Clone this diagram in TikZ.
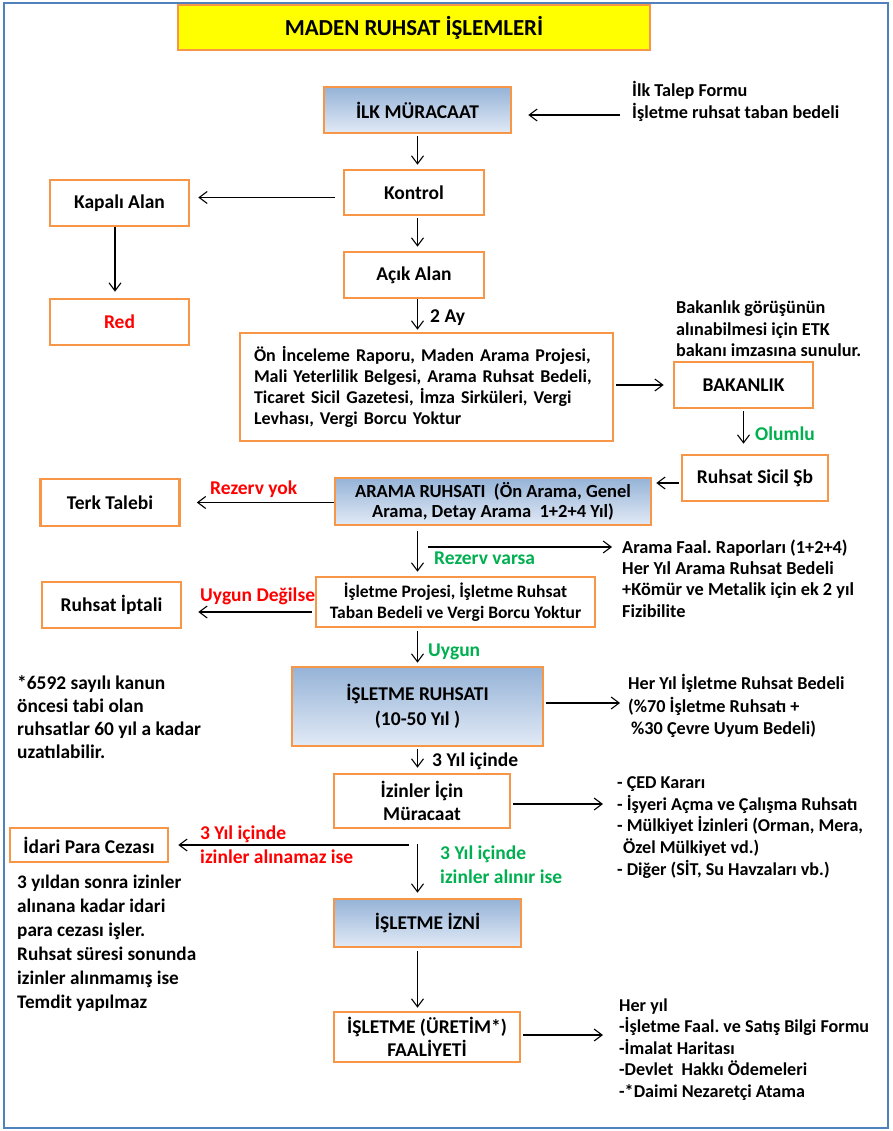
\documentclass[tikz,border=0pt]{standalone}
\usepackage{fontspec}
\setmainfont{Carlito}
\usetikzlibrary{arrows.meta,calc}
\definecolor{obox}{HTML}{F79646}
\definecolor{frameblue}{HTML}{4F81BD}
\definecolor{gtop}{HTML}{95B3D7}
\definecolor{gbot}{HTML}{E2EAF6}
\definecolor{tred}{HTML}{FF0000}
\definecolor{tgreen}{HTML}{00B050}
\definecolor{tyellow}{HTML}{FFFF00}
\newcommand{\fsz}[2]{\fontsize{#1}{#2}\selectfont\bfseries\frenchspacing}
\tikzset{
  box/.style={draw=obox, line width=2.6pt, fill=white, align=center, inner sep=2pt,
    font=\fsz{19.5}{23}},
  gbox/.style={box, top color=gtop, bottom color=gbot},
  txt/.style={anchor=base west, inner sep=0pt, align=left, font=\fsz{19.5}{23}},
  rtxt/.style={txt, font=\fsz{18.2}{21.5}},
  arr/.style={draw=black, line width=1.1pt, -{Straight Barb[length=8pt,width=12pt]}},
}
\begin{document}
\begin{tikzpicture}[x=1pt,y=-1pt]
\useasboundingbox (0,0) rectangle (892,1131);
\draw[frameblue, line width=1.5pt] (4,3) rectangle (888,1128);

% title
\node[box, fill=tyellow, minimum width=472, minimum height=45,
  font=\fsz{22.9}{26}] (title) at (414,27.5) {MADEN RUHSAT İŞLEMLERİ};

% boxes
\node[gbox, minimum width=187, minimum height=46] (ilk) at (417.5,110) {İLK MÜRACAAT};
\node[box, minimum width=140, minimum height=45] (kontrol) at (414,192.5) {Kontrol};
\node[box, minimum width=139, minimum height=46] (kapali) at (119.5,203) {Kapalı Alan};
\node[box, minimum width=139, minimum height=46, text=tred] (red) at (119.5,322) {Red};
\node[box, minimum width=140, minimum height=46] (acik) at (414,275) {Açık Alan};
\node[box, minimum width=373, minimum height=108, text width=345, align=left,
  font=\fsz{18}{21.3}] (onin) at (426.5,387)
  {Ön İnceleme Raporu, Maden Arama Projesi,\\Mali Yeterlilik Belgesi, Arama Ruhsat Bedeli,\\Ticaret Sicil Gazetesi, İmza Sirküleri, Vergi\\Levhası, Vergi Borcu Yoktur};
\node[box, minimum width=139, minimum height=46] (bakanlik) at (743.5,385) {BAKANLIK};
\node[box, minimum width=146, minimum height=46] (sicil) at (755,478) {Ruhsat Sicil Şb};
\node[gbox, minimum width=316, minimum height=47, font=\fsz{18.5}{20.8}] (arama) at (493,501.5)
  {ARAMA RUHSATI~~(Ön Arama, Genel\\Arama, Detay Arama~~1+2+4 Yıl)};
\node[box, minimum width=139, minimum height=47] (terk) at (110,502.5) {Terk Talebi};
\node[box, minimum width=279, minimum height=50, font=\fsz{17.5}{21}] (isproje) at (455.5,602)
  {İşletme Projesi, İşletme Ruhsat\\Taban Bedeli ve Vergi Borcu Yoktur};
\node[box, minimum width=139, minimum height=46] (iptal) at (111.5,605) {Ruhsat İptali};
\node[gbox, minimum width=251, minimum height=79, font=\fsz{19.5}{25}] (isruhsat) at (417.5,706.5)
  {İŞLETME RUHSATI\\(10-50 Yıl )};
\node[box, minimum width=176, minimum height=54, font=\fsz{19.5}{23}] (izinler) at (422,801) {İzinler İçin\\Müracaat};
\node[box, minimum width=158, minimum height=34] (idari) at (89,845) {İdari Para Cezası};
\node[gbox, minimum width=187, minimum height=48] (izni) at (427.5,923) {İŞLETME İZNİ};
\node[box, minimum width=186, minimum height=50, font=\fsz{19.5}{23}] (uretim) at (427,1037) {İŞLETME (ÜRETİM*)\\FAALİYETİ};

% free texts (base = last line baseline)
\node[rtxt] (talep) at (632,118.5) {İlk Talep Formu\\İşletme ruhsat taban bedeli};
\node[rtxt] (bnote) at (676,356.5) {Bakanlık görüşünün\\alınabilmesi için ETK\\bakanı imzasına sunulur.};
\node[txt] (ay) at (430,322.5) {2 Ay};
\node[txt, text=tgreen] (olumlu) at (755,440) {Olumlu};
\node[txt, text=tred] (rezyok) at (210,494) {Rezerv yok};
\node[txt, text=tgreen] (rezvar) at (434,564) {Rezerv varsa};
\node[rtxt, font=\fsz{18.3}{21.3}] (faal) at (622,617) {Arama Faal. Raporları (1+2+4)\\Her Yıl Arama Ruhsat Bedeli\\+Kömür ve Metalik için ek 2 yıl\\Fizibilite};
\node[txt, text=tred] (degil) at (200,601) {Uygun Değilse};
\node[txt, text=tgreen] (uygun) at (428,656) {Uygun};
\node[rtxt, font=\fsz{18.2}{22.5}] (isbedel) at (628,734.5) {Her Yıl İşletme Ruhsat Bedeli\\(\%70 İşletme Ruhsatı +\\\hspace*{3pt}\%30 Çevre Uyum Bedeli)};
\node[txt, font=\fsz{19.4}{22.7}] (kanun) at (17,758) {*6592 sayılı kanun\\öncesi tabi olan\\ruhsatlar 60 yıl a kadar\\uzatılabilir.};
\node[txt] (uc) at (432,766) {3 Yıl içinde};
\node[rtxt, font=\fsz{18.1}{21.6}] (izlist) at (617,875) {- ÇED Kararı\\- İşyeri Açma ve Çalışma Ruhsatı\\- Mülkiyet İzinleri (Orman, Mera,\\\hspace*{6pt}Özel Mülkiyet vd.)\\- Diğer (SİT, Su Havzaları vb.)};
\node[txt, text=tred, font=\fsz{19.5}{24}] (alinamaz) at (200,863) {3 Yıl içinde\\izinler alınamaz ise};
\node[txt, text=tgreen, font=\fsz{19.5}{24}] (alinir) at (440,883) {3 Yıl içinde\\izinler alınır ise};
\node[txt, font=\fsz{19.2}{24}] (ceza) at (17,1008) {3 yıldan sonra izinler\\alınana kadar idari\\para cezası işler.\\Ruhsat süresi sonunda\\izinler alınmamış ise\\Temdit yapılmaz};
\node[rtxt, font=\fsz{18.1}{21.5}] (heryil) at (619,1097) {Her yıl\\-İşletme Faal. ve Satış Bilgi Formu\\-İmalat Haritası\\-Devlet~~Hakkı Ödemeleri\\-*Daimi Nezaretçi Atama};

% coordinates
\coordinate (axis) at (417.5,0);
\coordinate (tal) at (620,115);
\coordinate (k1) at ([yshift=-5pt]kontrol.west);
\coordinate (s1) at ([yshift=-5pt]sicil.west);
\coordinate (rv) at (428,547);
\coordinate (rvend) at (612,547);
\coordinate (p1) at ([yshift=-10pt]isproje.west);
\coordinate (r1) at ([yshift=3.5pt]isruhsat.east);
\coordinate (r1end) at (620,703);
\coordinate (z1) at ([yshift=-3pt]izinler.east);
\coordinate (z1end) at (603,804);
\coordinate (split) at (409,845);
\coordinate (u1) at ([yshift=2pt]uretim.east);
\coordinate (u1end) at (603,1035);

% connectors
\draw[arr, shorten >=16pt] (tal) -- (ilk.east |- tal);
\draw[arr, shorten <=2pt, shorten >=4pt] (ilk.south -| axis) -- (kontrol.north -| axis);
\draw[arr, shorten <=8pt, shorten >=8pt] (k1) -- (kapali.east |- k1);
\draw[arr, shorten >=6pt] (kapali.south -| 115,0) -- (red.north -| 115,0);
\draw[arr, shorten <=2pt, shorten >=4pt] (kontrol.south -| axis) -- (acik.north -| axis);
\draw[arr, shorten >=2pt] (acik.south -| axis) -- (onin.north -| axis);
\draw[arr, shorten <=2pt, shorten >=9pt] (onin.east |- bakanlik.west) -- (bakanlik.west);
\draw[arr, shorten <=2pt, shorten >=10pt] (bakanlik.south) -- (sicil.north -| bakanlik.south);
\draw[arr, shorten <=2pt, shorten >=4pt] (s1) -- (arama.east |- s1);
\draw[arr, shorten >=16pt] (arama.west |- terk.east) -- (terk.east);
\draw[arr, shorten <=5pt, shorten >=4pt] (arama.south -| axis) -- (isproje.north -| axis);
\draw[arr] (rv) -- (rvend);
\draw[arr, shorten <=3pt, shorten >=16pt] (p1) -- (iptal.east |- p1);
\draw[arr, shorten <=3pt, shorten >=3pt] (isproje.south -| axis) -- (isruhsat.north -| axis);
\draw[arr, shorten <=2pt] (r1) -- (r1end);
\draw[arr, shorten <=2pt, shorten >=5pt] (isruhsat.south -| axis) -- (izinler.north -| axis);
\draw[arr, shorten <=2pt] (z1) -- (z1end);
\draw[arr, shorten >=9pt] (split) -- (idari.east);
\draw[arr, shorten <=15pt, shorten >=5pt] (izinler.south -| axis) -- (izni.north -| axis);
\draw[arr, shorten <=3pt, shorten >=3pt] (izni.south -| axis) -- (uretim.north -| axis);
\draw[arr, shorten <=2pt] (u1) -- (u1end);
\end{tikzpicture}
\end{document}
